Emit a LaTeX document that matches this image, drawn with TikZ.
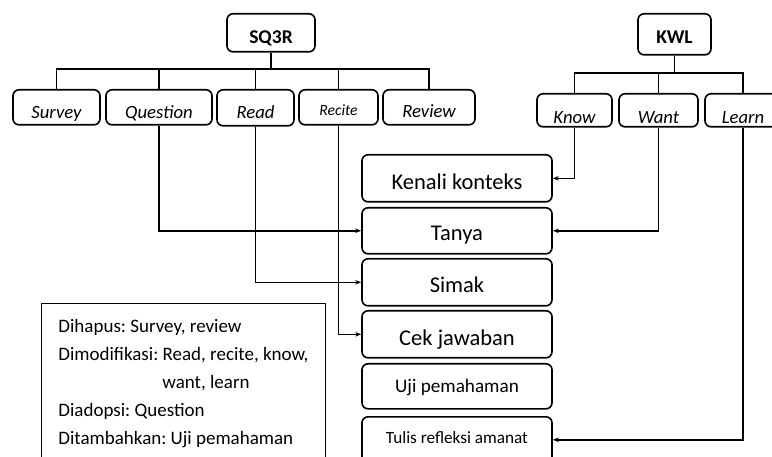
\documentclass[tikz,border=0pt]{standalone}
\usepackage{fontspec}
\setmainfont{Carlito}
\frenchspacing
\usetikzlibrary{arrows.meta}
\tikzset{
  box/.style={draw, rounded corners=6pt, line width=1.6pt, inner sep=0pt, anchor=north},
  head/.style={box, font=\bfseries\fontsize{19.5}{20}\selectfont, text height=30pt, text depth=8pt},
  phase/.style={box, font=\itshape\fontsize{18.7}{20}\selectfont, text height=29pt, text depth=6pt},
  kwlphase/.style={phase, text height=30pt, text depth=3pt},
  stage/.style={box, minimum width=190pt, font=\fontsize{22.5}{24}\selectfont, text height=34pt, text depth=13pt},
  notes/.style={draw, line width=0.8pt, anchor=north west, minimum width=284pt, minimum height=161pt,
    inner xsep=0pt, align=left, font=\frenchspacing\fontsize{19}{28}\selectfont},
  link/.style={line width=1.5pt},
  elbow/.style={to path={|- (\tikztotarget)}},
  >={Stealth[length=6pt,width=4.5pt]}
}

\begin{document}
\begin{tikzpicture}[x=1pt, y=-1pt]
  \useasboundingbox (0,0) rectangle (772,457);
  \clip (0,0) rectangle (772,457);

  \node[head, minimum width=88pt] (sq3r) at (271,13) {SQ3R};
  \node[head, minimum width=73pt, text depth=11pt] (kwl) at (674.5,13) {KWL};

  \node[phase, minimum width=87pt] (survey) at (56.5,89) {Survey};
  \node[phase, minimum width=106pt] (question) at (159,89) {Question};
  \node[phase, minimum width=77pt, text depth=7pt] (read) at (255.5,89) {Read};
  \node[phase, minimum width=79pt, font=\itshape\fontsize{15.6}{17}\selectfont,
    text height=26pt, text depth=9pt] (recite) at (338.5,89) {Recite};
  \node[phase, minimum width=92pt, text height=28pt, text depth=7pt] (review) at (429,89) {Review};

  \node[kwlphase, minimum width=75pt] (know) at (574.5,93) {Know};
  \node[kwlphase, minimum width=79pt] (want) at (658.5,93) {Want};
  \node[kwlphase, minimum width=76pt] (learn) at (743,93) {Learn};

  \node[stage, text height=35pt, text depth=12pt] (kenali) at (457,154) {Kenali konteks};
  \node[stage, text height=33pt] (tanya) at (457,207) {Tanya};
  \node[stage] (simak) at (457,258) {Simak};
  \node[stage, text height=35pt, text depth=12pt] (cek) at (457,310) {Cek jawaban};
  \node[stage, font=\fontsize{19.2}{21}\selectfont, text height=29pt, text depth=16pt] (uji) at (457,363) {Uji pemahaman};
  \node[stage, font=\fontsize{17.2}{19}\selectfont, text height=27pt, text depth=19pt] (tulis) at (457,416) {Tulis refleksi amanat};

  \node[notes] (changes) at (41,303) {Dihapus: Survey, review\\
    Dimodifikasi: Read, recite, know,\\
    \hspace*{104pt}want, learn\\
    Diadopsi: Question\\
    Ditambahkan: Uji pemahaman};

  % tree lines
  \coordinate (busA) at (0,69);
  \coordinate (busB) at (0,73);
  \draw[link] (sq3r) -- (sq3r |- busA);
  \draw[link] (survey) |- (review |- busA) -- (review);
  \foreach \p in {question, read, recite}
    \draw[link] (\p) -- (\p |- busA);
  \draw[link] (kwl) -- (kwl |- busB);
  \draw[link] (know) |- (learn |- busB) -- (learn);
  \draw[link] (want) -- (want |- busB);

  \path[link, ->]
    (question) edge[elbow] (tanya)
    (read) edge[elbow] (simak)
    (recite) edge[elbow] (cek)
    (know) edge[elbow] (kenali)
    (want) edge[elbow] (tanya)
    (learn) edge[elbow] (tulis);
\end{tikzpicture}
\end{document}
